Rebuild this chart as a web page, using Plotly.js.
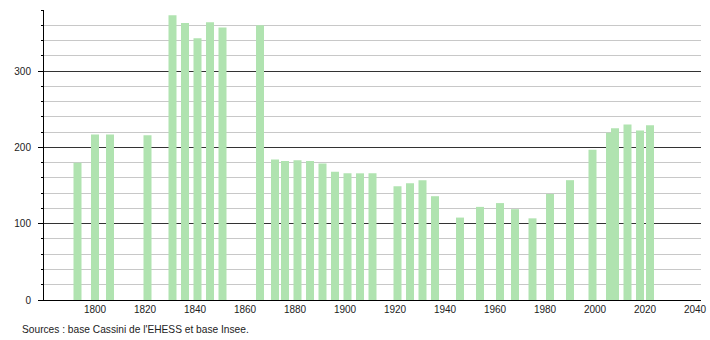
<!DOCTYPE html>
<html>
<head>
<meta charset="utf-8">
<script src="https://cdn.plot.ly/plotly-3.0.1.min.js"></script>
<style>html,body{margin:0;padding:0;background:#fff;}#chart{width:710px;height:340px;}</style>
</head>
<body>
<div id="chart"></div>
<script>
const years = [1793,1800,1806,1821,1831,1836,1841,1846,1851,1866,1872,1876,1881,1886,1891,1896,1901,1906,1911,1921,1926,1931,1936,1946,1954,1962,1968,1975,1982,1990,1999,2006,2008,2013,2018,2022];
const population = [180,217,217,216,373,363,343,364,357,360,184,182,183,182,179,168,166,166,166,149,153,157,136,108,122,127,119,107,139,157,197,219,225,230,222,229];
const xTickVals = [1800,1820,1840,1860,1880,1900,1920,1940,1960,1980,2000,2020,2040];
const sourceText = "Sources : base Cassini de l'EHESS et base Insee.";

const trace = {
  type: 'bar',
  x: years,
  y: population,
  width: 3.2,
  marker: {color: '#b0e3b0', line: {width: 0}},
  hoverinfo: 'x+y'
};

const layout = {
  width: 710, height: 340,
  margin: {l: 44, r: 9, t: 10, b: 40},
  paper_bgcolor: '#fff', plot_bgcolor: '#fff',
  showlegend: false,
  font: {family: 'Liberation Sans, Arial, sans-serif', size: 10, color: '#222'},
  xaxis: {
    range: [1779.6, 2042.4],
    tickvals: xTickVals,
    ticktext: xTickVals.map(String),
    showgrid: false, zeroline: false,
    showline: true, linecolor: '#000', linewidth: 1,
    ticks: '', ticklen: 0,
    tickfont: {size: 10, color: '#222'}
  },
  yaxis: {
    range: [0, 380],
    dtick: 100, tick0: 0,
    showgrid: true, gridcolor: '#333', gridwidth: 1,
    zeroline: false,
    showline: true, linecolor: '#000', linewidth: 1,
    ticks: 'outside', ticklen: 5, tickcolor: '#000',
    ticklabelstandoff: 5,
    tickfont: {size: 10, color: '#222'},
    minor: {dtick: 20, showgrid: true, gridcolor: '#c8c8c8', gridwidth: 1, ticks: 'outside', ticklen: 2, tickcolor: '#000'}
  },
  annotations: [{
    text: sourceText, xref: 'paper', yref: 'paper',
    x: -0.0365, y: -0.1, xanchor: 'left', yanchor: 'middle',
    showarrow: false, font: {size: 10.2, color: '#222'}
  }]
};

Plotly.newPlot('chart', [trace], layout, {displayModeBar: false, staticPlot: true});
</script>
</body>
</html>
